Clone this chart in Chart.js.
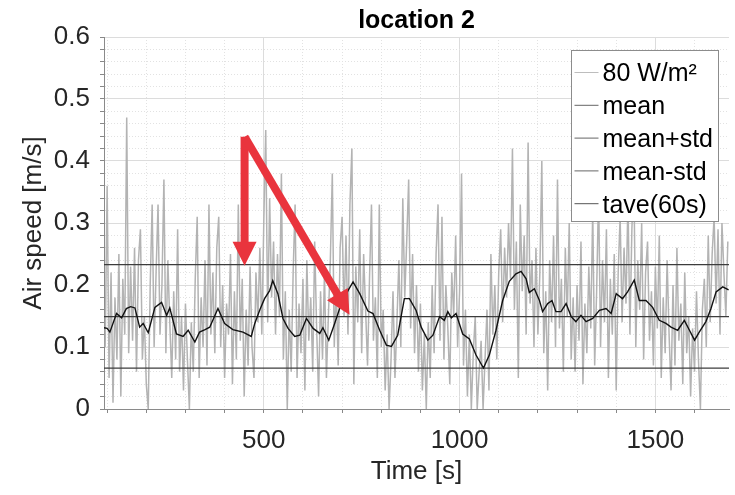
<!DOCTYPE html>
<html>
<head>
<meta charset="utf-8">
<script src="https://cdn.jsdelivr.net/npm/chart.js@4.4.1/dist/chart.umd.min.js"></script>
<style>
  html, body { margin: 0; padding: 0; background: #fff; }
  #wrap { width: 735px; height: 495px; }
</style>
</head>
<body>
<div id="wrap"><canvas id="chart" width="735" height="495"></canvas></div>
<script>
const FONT = "'Liberation Sans', Arial, sans-serif";

// raw signal, one reading every 5 s starting at t = 95 s
const sampleStart = 95;
const sampleStep = 5;
const airSpeed = [
  0.10,0.36,0.05,0.22,0.01,0.18,0.08,0.25,0.02,0.21,0.12,0.47,0.09,0.23,0.11,0.26,0.06,0.24,0.29,0.08,
  0.15,0.04,0.00,0.20,0.33,0.10,0.22,0.33,0.12,0.20,0.37,0.09,0.24,0.14,0.05,0.19,0.08,0.29,0.06,0.15,
  0.03,0.17,0.08,0.00,0.14,0.06,0.21,0.31,0.05,0.18,0.10,0.24,0.07,0.33,0.12,0.22,0.09,0.26,0.31,0.10,
  0.20,0.05,0.17,0.12,0.25,0.04,0.19,0.08,0.33,0.11,0.21,0.02,0.16,0.07,0.23,0.10,0.05,0.22,0.14,0.26,
  0.12,0.30,0.45,0.14,0.34,0.18,0.27,0.12,0.25,0.15,0.38,0.08,0.19,0.00,0.16,0.06,0.22,0.33,0.05,0.17,
  0.09,0.21,0.03,0.24,0.11,0.18,0.06,0.27,0.13,0.02,0.19,0.08,0.22,0.05,0.15,0.24,0.38,0.10,0.20,0.07,
  0.26,0.31,0.15,0.28,0.12,0.33,0.42,0.04,0.23,0.14,0.29,0.09,0.25,0.16,0.07,0.21,0.33,0.11,0.18,0.05,
  0.33,0.10,0.16,0.03,0.12,0.00,0.08,0.19,0.05,0.14,0.24,0.10,0.34,0.18,0.27,0.37,0.13,0.25,0.09,0.20,
  0.06,0.17,0.03,0.12,0.00,0.14,0.05,0.20,0.09,0.25,0.33,0.11,0.31,0.08,0.20,0.13,0.04,0.22,0.15,0.28,
  0.10,0.19,0.38,0.07,0.16,0.02,0.12,0.00,0.09,0.15,0.00,0.06,0.11,0.00,0.08,0.16,0.03,0.25,0.12,0.20,
  0.08,0.22,0.29,0.14,0.26,0.18,0.30,0.21,0.42,0.16,0.27,0.05,0.33,0.19,0.28,0.12,0.43,0.17,0.24,0.10,
  0.26,0.12,0.22,0.40,0.09,0.19,0.03,0.24,0.14,0.28,0.10,0.37,0.13,0.21,0.06,0.26,0.15,0.30,0.08,0.18,
  0.06,0.20,0.11,0.27,0.04,0.17,0.09,0.23,0.13,0.32,0.07,0.19,0.35,0.10,0.24,0.14,0.29,0.05,0.21,0.12,
  0.25,0.03,0.22,0.31,0.14,0.26,0.17,0.34,0.12,0.29,0.38,0.10,0.24,0.16,0.30,0.08,0.22,0.27,0.11,0.19,
  0.07,0.23,0.13,0.28,0.05,0.18,0.09,0.24,0.12,0.03,0.20,0.07,0.26,0.11,0.17,0.04,0.22,0.09,0.15,0.02,
  0.13,0.06,0.19,0.08,0.00,0.16,0.21,0.10,0.28,0.14,0.25,0.31,0.17,0.29,0.12,0.30,0.22,0.15,0.27
];

// 60 s moving average, [time, value]
const tave60 = [
  [92,0.131],[100,0.130],[107,0.124],[124,0.154],[137,0.147],[149,0.162],[160,0.165],[171,0.163],
  [183,0.132],[192,0.138],[205,0.123],[222,0.164],[239,0.172],[252,0.151],[260,0.163],[277,0.121],
  [294,0.117],[307,0.127],[324,0.108],[336,0.124],[350,0.128],[362,0.132],[383,0.162],[400,0.138],
  [421,0.128],[447,0.124],[468,0.117],[477,0.138],[490,0.160],[502,0.178],[515,0.191],[523,0.207],
  [536,0.186],[549,0.146],[562,0.130],[579,0.117],[592,0.119],[609,0.146],[626,0.130],[643,0.122],
  [651,0.131],[666,0.111],[681,0.138],[698,0.170],[715,0.191],[728,0.205],[745,0.186],[766,0.158],
  [779,0.154],[796,0.127],[813,0.103],[826,0.101],[842,0.119],[859,0.178],[872,0.178],[889,0.159],
  [902,0.132],[919,0.111],[932,0.119],[949,0.149],[961,0.143],[970,0.157],[979,0.147],[991,0.154],
  [1008,0.121],[1025,0.113],[1042,0.087],[1061,0.066],[1076,0.087],[1093,0.127],[1110,0.175],[1127,0.206],
  [1144,0.218],[1157,0.222],[1170,0.210],[1178,0.188],[1191,0.194],[1204,0.175],[1212,0.157],[1225,0.170],
  [1236,0.175],[1246,0.157],[1259,0.157],[1272,0.170],[1285,0.149],[1297,0.141],[1310,0.151],[1323,0.141],
  [1340,0.146],[1357,0.159],[1374,0.162],[1387,0.154],[1400,0.186],[1416,0.178],[1429,0.189],[1446,0.208],
  [1459,0.175],[1476,0.175],[1493,0.164],[1510,0.143],[1527,0.138],[1540,0.132],[1557,0.127],[1574,0.143],
  [1587,0.127],[1600,0.111],[1612,0.124],[1629,0.141],[1642,0.162],[1655,0.189],[1672,0.197],[1687,0.192]
];

const meanValue = 0.149;
const meanPlusStd = 0.233;
const meanMinusStd = 0.066;

const seriesLabels = ["80 W/m²", "mean", "mean+std", "mean-std", "tave(60s)"];

const xRange = [92, 1688];
const xMajorTicks = [500, 1000, 1500];
const xMinorTicks = [100, 200, 300, 400, 600, 700, 800, 900, 1100, 1200, 1300, 1400, 1600];
const yMajorTicks = [0, 0.1, 0.2, 0.3, 0.4, 0.5, 0.6];
const yMinorTicks = [0.02, 0.04, 0.06, 0.08, 0.12, 0.14, 0.16, 0.18, 0.22, 0.24, 0.26, 0.28,
  0.32, 0.34, 0.36, 0.38, 0.42, 0.44, 0.46, 0.48, 0.52, 0.54, 0.56, 0.58];

// red annotation arrows, in data units [time, speed]
const arrowStart = [451, 0.439];
const arrowTips = [[451, 0.231], [719, 0.152]];

function inList(v, list) {
  return list.some((m) => Math.abs(m - v) < 1e-6);
}

function flatLine(v) {
  return [{ x: xRange[0], y: v }, { x: xRange[1], y: v }];
}

const rawPoints = airSpeed.map((v, i) => ({ x: sampleStart + i * sampleStep, y: v }));
const tavePoints = tave60.map((p) => ({ x: p[0], y: p[1] }));

const titlePlugin = {
  id: "areaTitle",
  afterDraw(chart) {
    const { ctx, chartArea } = chart;
    ctx.save();
    ctx.font = "bold 25px " + FONT;
    ctx.fillStyle = "#000";
    ctx.textAlign = "center";
    ctx.textBaseline = "alphabetic";
    ctx.fillText("location 2", (chartArea.left + chartArea.right) / 2, 28);
    ctx.restore();
  },
};

const arrowPlugin = {
  id: "arrows",
  afterDatasetsDraw(chart) {
    const { ctx } = chart;
    const xs = chart.scales.x;
    const ys = chart.scales.y;
    const sx = xs.getPixelForValue(arrowStart[0]);
    const sy = ys.getPixelForValue(arrowStart[1]);
    const headLen = 24;
    const headW = 12;

    ctx.save();
    ctx.fillStyle = "#e9343d";
    ctx.strokeStyle = "#e9343d";
    ctx.lineWidth = 8;
    ctx.lineCap = "butt";

    arrowTips.forEach((tip) => {
      const tx = xs.getPixelForValue(tip[0]);
      const ty = ys.getPixelForValue(tip[1]);
      const ang = Math.atan2(ty - sy, tx - sx);
      const bx = tx - headLen * Math.cos(ang);
      const by = ty - headLen * Math.sin(ang);

      ctx.beginPath();
      ctx.moveTo(sx, sy);
      ctx.lineTo(bx + 1 * Math.cos(ang), by + 1 * Math.sin(ang));
      ctx.stroke();

      ctx.beginPath();
      ctx.moveTo(tx, ty);
      ctx.lineTo(bx + headW * Math.sin(ang), by - headW * Math.cos(ang));
      ctx.lineTo(bx - headW * Math.sin(ang), by + headW * Math.cos(ang));
      ctx.closePath();
      ctx.fill();
    });
    ctx.restore();
  },
};

const legendPlugin = {
  id: "boxLegend",
  afterDraw(chart) {
    const ctx = chart.ctx;
    const bx = 571.5, by = 50.5, bw = 147, bh = 171;
    ctx.save();
    ctx.fillStyle = "#fff";
    ctx.fillRect(bx, by, bw, bh);
    ctx.strokeStyle = "#8c8c8c";
    ctx.lineWidth = 1;
    ctx.strokeRect(bx, by, bw, bh);
    ctx.font = "25px " + FONT;
    ctx.textBaseline = "middle";
    chart.data.datasets.forEach((ds, i) => {
      const yy = by + 22 + i * 32.8;
      ctx.strokeStyle = ds.legendColor;
      ctx.lineWidth = 1;
      ctx.beginPath();
      ctx.moveTo(bx + 3, yy);
      ctx.lineTo(bx + 27, yy);
      ctx.stroke();
      ctx.fillStyle = "#000";
      ctx.fillText(ds.label, bx + 31, yy + 2);
    });
    ctx.restore();
  },
};

const ctx = document.getElementById("chart");

new Chart(ctx, {
  type: "line",
  data: {
    datasets: [
      {
        label: seriesLabels[0],
        data: rawPoints,
        borderColor: "#b3b3b3",
        legendColor: "#bdbdbd",
        borderWidth: 1.5,
        order: 2,
      },
      {
        label: seriesLabels[1],
        data: flatLine(meanValue),
        borderColor: "#3c3c3c",
        legendColor: "#666",
        borderWidth: 1.2,
        order: 1,
      },
      {
        label: seriesLabels[2],
        data: flatLine(meanPlusStd),
        borderColor: "#3c3c3c",
        legendColor: "#666",
        borderWidth: 1.2,
        order: 1,
      },
      {
        label: seriesLabels[3],
        data: flatLine(meanMinusStd),
        borderColor: "#3c3c3c",
        legendColor: "#666",
        borderWidth: 1.2,
        order: 1,
      },
      {
        label: seriesLabels[4],
        data: tavePoints,
        borderColor: "#111",
        legendColor: "#555",
        borderWidth: 1.4,
        order: 0,
      },
    ],
  },
  options: {
    responsive: false,
    animation: false,
    events: [],
    elements: {
      point: { radius: 0 },
      line: { tension: 0 },
    },
    layout: { padding: { top: 37, right: 6, left: 0, bottom: 0 } },
    plugins: {
      legend: { display: false },
      title: { display: false },
      tooltip: { enabled: false },
    },
    scales: {
      x: {
        type: "linear",
        min: xRange[0],
        max: xRange[1],
        afterBuildTicks: (scale) => {
          scale.ticks = xMinorTicks.concat(xMajorTicks).sort((a, b) => a - b).map((v) => ({ value: v }));
        },
        afterFit: (scale) => {
          scale.height = 86;
        },
        ticks: {
          autoSkip: false,
          maxRotation: 0,
          padding: 12,
          color: "#262626",
          font: { family: FONT, size: 26 },
          callback: (v) => (inList(v, xMajorTicks) ? String(v) : ""),
        },
        grid: {
          color: (c) => (c.tick && inList(c.tick.value, xMajorTicks) ? "#dcdcdc" : "#e2e2e2"),
          lineWidth: 1,
          tickLength: 4,
          tickColor: "#888",
        },
        border: {
          display: true,
          color: "#8a8a8a",
          dash: (c) => (c.tick && !inList(c.tick.value, xMajorTicks) ? [1, 2] : []),
        },
        title: {
          display: true,
          text: "Time [s]",
          color: "#262626",
          font: { family: FONT, size: 26 },
          padding: { top: 0, bottom: 8 },
        },
      },
      y: {
        type: "linear",
        min: 0,
        max: 0.6,
        afterBuildTicks: (scale) => {
          scale.ticks = yMinorTicks.concat(yMajorTicks).sort((a, b) => a - b).map((v) => ({ value: v }));
        },
        afterFit: (scale) => {
          scale.width = 104;
        },
        ticks: {
          autoSkip: false,
          padding: 10,
          color: "#262626",
          font: { family: FONT, size: 26 },
          callback: (v) => (inList(v, yMajorTicks) ? (v === 0 ? "0" : v.toFixed(1)) : ""),
        },
        grid: {
          color: (c) => (c.tick && inList(c.tick.value, yMajorTicks) ? "#dcdcdc" : "#e2e2e2"),
          lineWidth: 1,
          tickLength: 4,
          tickColor: "#888",
        },
        border: {
          display: true,
          color: "#8a8a8a",
          dash: (c) => (c.tick && !inList(c.tick.value, yMajorTicks) ? [1, 2] : []),
        },
        title: {
          display: true,
          text: "Air speed [m/s]",
          color: "#262626",
          font: { family: FONT, size: 26 },
          padding: { top: 18, bottom: 0 },
        },
      },
    },
  },
  plugins: [arrowPlugin, titlePlugin, legendPlugin],
});
</script>
</body>
</html>
